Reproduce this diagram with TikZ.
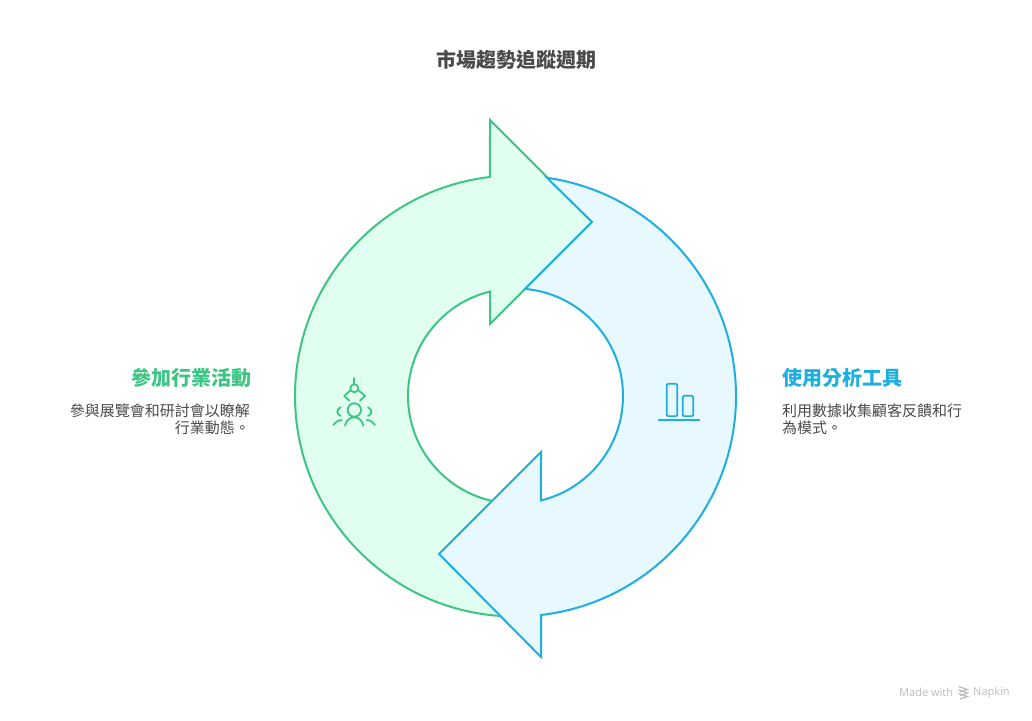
\documentclass[tikz,border=0pt]{standalone}
\usepackage{fontspec}
\setmainfont{Noto Sans CJK TC}
\newfontfamily\markfont{Open Sans}
\definecolor{greenline}{HTML}{3CC583}
\definecolor{greenfill}{HTML}{E1FFF0}
\definecolor{blueline}{HTML}{1EAEDF}
\definecolor{bluefill}{HTML}{E7F9FF}
\definecolor{inktext}{HTML}{4A4A4A}
\definecolor{marktext}{HTML}{BBBBBB}
\tikzstyle{greenarrow}=[draw=greenline,fill=greenfill,line width=2pt]
\tikzstyle{bluearrow}=[draw=blueline,fill=bluefill,line width=2pt]
\tikzstyle{greenicon}=[draw=greenline,line width=1.8pt,line cap=round,line join=round]
\tikzstyle{blueicon}=[draw=blueline,line width=1.8pt,line cap=round,line join=round]
\tikzstyle{charthead}=[font=\fontsize{20}{24}\selectfont\bfseries,text=inktext]
\tikzstyle{heading}=[font=\fontsize{20}{24}\selectfont\bfseries]
\tikzstyle{bodytext}=[font=\fontsize{15}{17.5}\selectfont,text=inktext,inner sep=0pt]
\tikzstyle{marktag}=[font=\fontsize{11}{14}\selectfont\markfont,text=marktext,inner sep=0pt]

\begin{document}
\begin{tikzpicture}[x=1pt,y=1pt]

    \useasboundingbox (0,0) rectangle (1032,720);

    \coordinate (centre) at (515.5,324);

    \foreach \name/\x/\y in {greentop/490/600, greentip/592/498, greenbot/490/396, bluetop/541/268, bluetip/439/166, bluebot/541/63}
        \coordinate (\name) at (\x,\y);

    % green arrow first, the blue one lies over its tail
    \path[greenarrow] (greentop) -- (greentip) -- (greenbot)
        -- ([shift={(103.65:107.5pt)}]centre) arc[start angle=103.65, end angle=270, radius=107.5pt]
        -- ([shift={(270:220.5pt)}]centre) arc[start angle=270, end angle=96.65, radius=220.5pt] -- cycle;

    \path[bluearrow] (bluebot) -- ([shift={(-83.35:220.5pt)}]centre) arc[start angle=-83.35, end angle=81.8, radius=220.5pt]
        -- (greentip)
        -- ([shift={(84.9:107.5pt)}]centre) arc[start angle=84.9, end angle=-76.3, radius=107.5pt]
        -- (bluetop) -- (bluetip) -- cycle;

    % texts
    \node[charthead] (charttitle) at (516,660) {市場趨勢追蹤週期};

    \node[heading, text=greenline, anchor=east, inner sep=0pt] (leftheading) at (251.5,342) {參加行業活動};
    \node[bodytext, anchor=north east, align=right] (leftbody) at (250,316.5) {參與展覽會和研討會以瞭解\\行業動態。};

    \node[heading, text=blueline, anchor=west, inner sep=0pt] (rightheading) at (782,342) {使用分析工具};
    \node[bodytext, anchor=north west, align=left] (rightbody) at (782,316.5) {利用數據收集顧客反饋和行\\為模式。};

    % person icon
    \draw[greenicon] (354.3,341.7) -- (354.3,336);
    \draw[greenicon] (354.3,331.7) circle (4pt);
    \draw[greenicon] (350,329.3) -- (344.3,324) -- (349.3,319.3);
    \draw[greenicon] (359,329.3) -- (365,324) -- (360,319.3);
    \draw[greenicon] (354.3,310) circle (6.7pt);
    \draw[greenicon] (345,294.3) .. controls (346,299.5) and (350,302.7) .. (354.3,302.7) .. controls (358.6,302.7) and (362.5,299.5) .. (363.3,294.3);
    \draw[greenicon] (340.7,312.7) .. controls (338.3,311.5) and (337.3,310) .. (337.3,308.3) .. controls (337.3,306.6) and (338.3,305) .. (340.7,304);
    \draw[greenicon] (368,312.7) .. controls (370.4,311.5) and (371.3,310) .. (371.3,308.3) .. controls (371.3,306.6) and (370.4,305) .. (368,304);
    \draw[greenicon] (333.3,295) .. controls (335,298) and (338,299.6) .. (341.7,300);
    \draw[greenicon] (375,295) .. controls (373.3,298) and (370.4,299.6) .. (366.7,300);

    % bars icon
    \draw[blueicon, rounded corners=1.5pt] (666.7,303.7) rectangle (677.3,336.3);
    \draw[blueicon, rounded corners=1.5pt] (682.7,303.7) rectangle (693.3,324.3);
    \draw[blueicon, line cap=butt] (658.3,300.3) -- (700,300.3);

    % footer
    \node[marktag, anchor=west] (madewith) at (899,27.5) {Made with};
    \node[marktag, anchor=west] (napkin) at (973,27.5) {Napkin};
    \foreach \y in {31,27.5,24}
        \draw[marktext, line width=1.2pt] (958.5,\y+2.5) -- (967.5,\y-0.5) -- (960,\y-3);

\end{tikzpicture}
\end{document}
